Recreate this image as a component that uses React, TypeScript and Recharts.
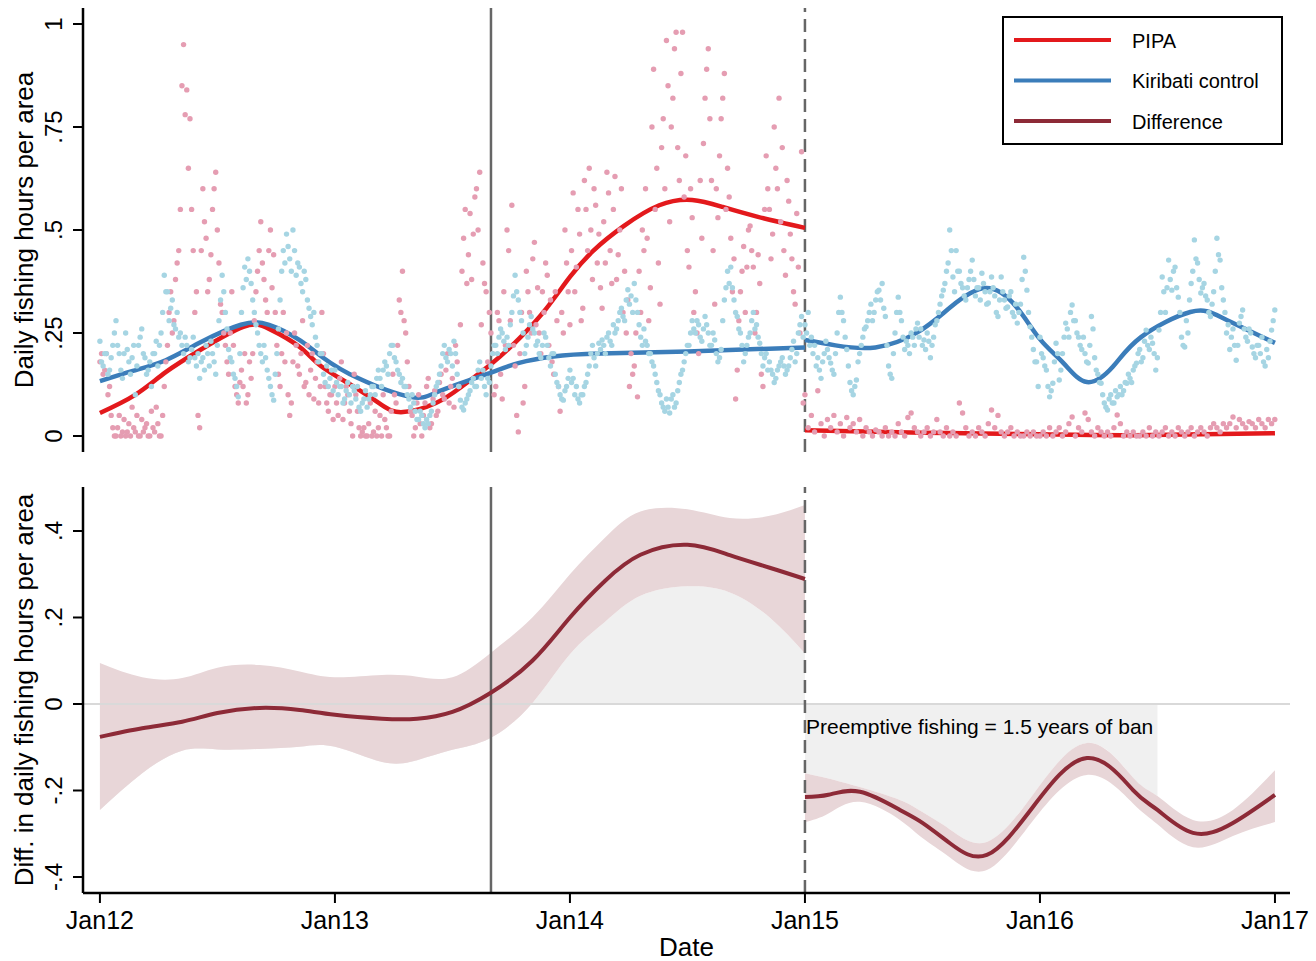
import React from "react";
import { Area, ComposedChart, Line, ReferenceLine, Scatter, XAxis, YAxis } from "recharts";

// x values are decimal years; dots are read every 5 days (b lists sit 2.5 days later)
const STEP_DAYS = 5;
const YEAR_TICKS = [2012, 2013, 2014, 2015, 2016, 2017];
const TOP_TICKS = [0, 0.25, 0.5, 0.75, 1];
const DIFF_TICKS = [-0.4, -0.2, 0, 0.2, 0.4];
const ANNOUNCE = 2013.664;
const BAN = 2015;

// PIPA daily points
const pipa2012 = [
  0.18, 0.15, 0.2, 0.12, 0.02, 0.0, 0.05, 0.01, 0.0, 0.03,
  0.07, 0.01, 0.0, 0.04, 0.02, 0.0, 0.06, 0.01, 0.03, 0.0,
  0.12, 0.22, 0.35, 0.28, 0.42, 0.55, 0.95, 0.84, 0.77, 0.45,
  0.35, 0.02, 0.6, 0.48, 0.38, 0.55, 0.64, 0.42, 0.3, 0.22,
  0.15, 0.35, 0.12, 0.08, 0.16, 0.2, 0.1, 0.14, 0.28, 0.4,
  0.52, 0.38, 0.3, 0.5, 0.44, 0.22, 0.12, 0.3, 0.25, 0.05,
  0.18, 0.22, 0.15, 0.28, 0.13, 0.1, 0.2, 0.14, 0.08, 0.3,
  0.12, 0.06, 0.1,
];
const pipa2012b = [
  0.2, 0.16, 0.1, 0.05, 0.0, 0.02, 0.0, 0.04, 0.01, 0.0,
  0.02, 0.05, 0.0, 0.01, 0.03, 0.0, 0.02, 0.07, 0.0, 0.05,
  0.18, 0.3, 0.25, 0.38, 0.45, 0.85, 0.78, 0.65, 0.55, 0.3,
  0.05, 0.45, 0.52, 0.35, 0.44, 0.6, 0.5, 0.32, 0.25, 0.18,
  0.25, 0.22, 0.1, 0.13, 0.12, 0.08, 0.18, 0.2, 0.35, 0.45,
  0.42, 0.33, 0.45, 0.36, 0.3, 0.15, 0.2, 0.18, 0.1, 0.08,
  0.25, 0.17, 0.2, 0.12, 0.22, 0.16, 0.09, 0.18, 0.12, 0.2,
  0.08, 0.1, 0.04,
];
const pipa2013 = [
  0.12, 0.05, 0.18, 0.08, 0.1, 0.03, 0.15, 0.06, 0.0, 0.02,
  0.0, 0.08, 0.01, 0.0, 0.05, 0.1, 0.02, 0.0, 0.15, 0.08,
  0.33, 0.4, 0.25, 0.12, 0.05, 0.02, 0.1, 0.0, 0.08, 0.14,
  0.03, 0.11, 0.06, 0.15, 0.09, 0.2, 0.12, 0.07, 0.18, 0.27,
  0.48, 0.37, 0.54, 0.49, 0.6, 0.64, 0.42, 0.35, 0.3, 0.2,
  0.12, 0.28, 0.09, 0.22, 0.45, 0.56, 0.17, 0.01, 0.3, 0.12,
  0.35, 0.25, 0.47, 0.36, 0.2, 0.3, 0.39, 0.33, 0.15, 0.28,
  0.06, 0.25, 0.42,
];
const pipa2013b = [
  0.08, 0.14, 0.04, 0.12, 0.06, 0.0, 0.1, 0.02, 0.01, 0.0,
  0.03, 0.0, 0.06, 0.02, 0.0, 0.04, 0.0, 0.06, 0.1, 0.22,
  0.3, 0.28, 0.18, 0.06, 0.0, 0.08, 0.03, 0.05, 0.12, 0.02,
  0.09, 0.05, 0.13, 0.1, 0.16, 0.08, 0.14, 0.22, 0.12, 0.4,
  0.55, 0.44, 0.38, 0.58, 0.5, 0.27, 0.37, 0.18, 0.25, 0.1,
  0.3, 0.15, 0.35, 0.5, 0.28, 0.22, 0.05, 0.2, 0.08, 0.4,
  0.3, 0.43, 0.27, 0.25, 0.35, 0.42, 0.22, 0.18, 0.35, 0.12,
  0.3, 0.5, 0.35,
];
const pipa2014 = [
  0.27, 0.59, 0.41, 0.49, 0.31, 0.55, 0.65, 0.38, 0.56, 0.49,
  0.31, 0.42, 0.59, 0.37, 0.63, 0.44, 0.6, 0.4, 0.33, 0.2,
  0.17, 0.095, 0.3, 0.45, 0.48, 0.36, 0.89, 0.65, 0.32, 0.77,
  0.96, 0.52, 0.82, 0.98, 0.62, 0.98, 0.68, 0.41, 0.53, 0.35,
  0.2, 0.48, 0.82, 0.94, 0.62, 0.32, 0.53, 0.77, 0.88, 0.65,
  0.48, 0.43, 0.16, 0.35, 0.46, 0.41, 0.51, 0.41, 0.3, 0.37,
  0.12, 0.68, 0.55, 0.49, 0.65, 0.82, 0.7, 0.39, 0.57, 0.43,
  0.32, 0.41, 0.69,
];
const pipa2014b = [
  0.45, 0.35, 0.55, 0.28, 0.62, 0.45, 0.5, 0.6, 0.42, 0.36,
  0.52, 0.64, 0.45, 0.55, 0.38, 0.5, 0.3, 0.25, 0.12, 0.15,
  0.25, 0.4, 0.5, 0.6, 0.28, 0.75, 0.55, 0.42, 0.7, 0.6,
  0.85, 0.75, 0.94, 0.7, 0.88, 0.58, 0.45, 0.6, 0.3, 0.25,
  0.62, 0.71, 0.89, 0.77, 0.45, 0.6, 0.68, 0.82, 0.55, 0.58,
  0.35, 0.09, 0.28, 0.4, 0.3, 0.5, 0.45, 0.25, 0.44, 0.15,
  0.55, 0.6, 0.43, 0.75, 0.6, 0.52, 0.45, 0.62, 0.49, 0.35,
  0.54, 0.25, 0.08,
];
const pipa2015 = [
  0.1, 0.02, 0.05, 0.01, 0.11, 0.03, 0.0, 0.04, 0.02, 0.05,
  0.01, 0.03, 0.0, 0.045, 0.02, 0.03, 0.01, 0.04, 0.0, 0.02,
  0.01, 0.0, 0.015, 0.01, 0.0, 0.02, 0.0, 0.01, 0.0, 0.03,
  0.01, 0.0, 0.045, 0.056, 0.02, 0.01, 0.0, 0.01, 0.02, 0.0,
  0.01, 0.04, 0.01, 0.0, 0.02, 0.0, 0.01, 0.0, 0.08, 0.056,
  0.02, 0.0, 0.01, 0.0, 0.02, 0.01, 0.0, 0.03, 0.063, 0.02,
  0.05, 0.01, 0.0, 0.01, 0.02, 0.0, 0.01, 0.0, 0.0, 0.01,
  0.0, 0.01, 0.0,
];
const pipa2016 = [
  0.0, 0.01, 0.0, 0.02, 0.0, 0.01, 0.02, 0.0, 0.01, 0.03,
  0.046, 0.0, 0.02, 0.01, 0.056, 0.04, 0.01, 0.0, 0.02, 0.01,
  0.0, 0.01, 0.0, 0.02, 0.051, 0.03, 0.0, 0.01, 0.0, 0.01,
  0.0, 0.0, 0.01, 0.0, 0.02, 0.0, 0.01, 0.0, 0.01, 0.02,
  0.0, 0.01, 0.0, 0.02, 0.01, 0.0, 0.01, 0.02, 0.0, 0.01,
  0.02, 0.01, 0.0, 0.02, 0.03, 0.02, 0.01, 0.03, 0.02, 0.03,
  0.046, 0.02, 0.04, 0.03, 0.02, 0.035, 0.03, 0.02, 0.04, 0.03,
  0.02, 0.04, 0.03, 0.04,
];

// Kiribati control daily points
const kiri2012 = [
  0.23, 0.17, 0.2, 0.16, 0.22, 0.28, 0.2, 0.14, 0.25, 0.18,
  0.19, 0.1, 0.22, 0.26, 0.19, 0.16, 0.12, 0.2, 0.17, 0.25,
  0.39, 0.35, 0.31, 0.27, 0.3, 0.25, 0.2, 0.22, 0.19, 0.24,
  0.17, 0.14, 0.19, 0.22, 0.17, 0.2, 0.15, 0.28, 0.39, 0.3,
  0.21, 0.18, 0.14, 0.095, 0.3, 0.41, 0.43, 0.37, 0.3, 0.25,
  0.2, 0.22, 0.16, 0.12, 0.087, 0.2, 0.33, 0.45, 0.49, 0.43,
  0.5, 0.39, 0.41, 0.35, 0.38, 0.31, 0.27, 0.24, 0.18, 0.2,
  0.13, 0.12, 0.16,
];
const kiri2012b = [
  0.18, 0.2, 0.15, 0.19, 0.25, 0.22, 0.16, 0.2, 0.21, 0.15,
  0.22, 0.17, 0.24, 0.2, 0.15, 0.18, 0.2, 0.23, 0.22, 0.3,
  0.35, 0.28, 0.33, 0.26, 0.24, 0.22, 0.24, 0.18, 0.21, 0.19,
  0.2, 0.18, 0.16, 0.2, 0.23, 0.18, 0.22, 0.33, 0.35, 0.26,
  0.19, 0.15, 0.12, 0.2, 0.36, 0.38, 0.4, 0.33, 0.27, 0.22,
  0.18, 0.19, 0.14, 0.1, 0.15, 0.26, 0.4, 0.42, 0.46, 0.4,
  0.45, 0.42, 0.37, 0.4, 0.33, 0.29, 0.3, 0.22, 0.2, 0.15,
  0.17, 0.14, 0.11,
];
const kiri2013 = [
  0.16, 0.1, 0.12, 0.09, 0.13, 0.08, 0.11, 0.12, 0.06, 0.09,
  0.07, 0.1, 0.12, 0.14, 0.14, 0.16, 0.17, 0.2, 0.22, 0.18,
  0.15, 0.14, 0.12, 0.09, 0.1, 0.06, 0.04, 0.05, 0.02, 0.03,
  0.06, 0.1, 0.13, 0.17, 0.22, 0.18, 0.2, 0.23, 0.15, 0.087,
  0.063, 0.09, 0.11, 0.14, 0.12, 0.18, 0.16, 0.1, 0.13, 0.2,
  0.22, 0.24, 0.25, 0.21, 0.22, 0.3, 0.39, 0.33, 0.28, 0.2,
  0.24, 0.29, 0.25, 0.23, 0.19, 0.25, 0.22, 0.17, 0.2, 0.13,
  0.1, 0.087, 0.12,
];
const kiri2013b = [
  0.13, 0.12, 0.08, 0.11, 0.1, 0.12, 0.09, 0.07, 0.08, 0.11,
  0.09, 0.12, 0.1, 0.16, 0.12, 0.18, 0.15, 0.22, 0.19, 0.16,
  0.13, 0.12, 0.1, 0.07, 0.08, 0.04, 0.06, 0.03, 0.04, 0.05,
  0.08, 0.12, 0.15, 0.2, 0.19, 0.21, 0.17, 0.2, 0.12, 0.07,
  0.08, 0.1, 0.13, 0.12, 0.16, 0.14, 0.12, 0.14, 0.17, 0.22,
  0.2, 0.26, 0.23, 0.24, 0.27, 0.34, 0.35, 0.3, 0.25, 0.22,
  0.27, 0.26, 0.22, 0.2, 0.22, 0.24, 0.19, 0.2, 0.15, 0.12,
  0.09, 0.11, 0.14,
];
const kiri2014 = [
  0.16, 0.14, 0.12, 0.08, 0.1, 0.13, 0.17, 0.22, 0.17, 0.225,
  0.233, 0.2, 0.25, 0.22, 0.25, 0.28, 0.31, 0.28, 0.355, 0.34,
  0.37, 0.3, 0.24, 0.26, 0.22, 0.2, 0.17, 0.13, 0.1, 0.07,
  0.09, 0.056, 0.1, 0.08, 0.13, 0.16, 0.2, 0.22, 0.28, 0.25,
  0.27, 0.23, 0.29, 0.25, 0.22, 0.233, 0.18, 0.21, 0.33, 0.4,
  0.41, 0.33, 0.29, 0.25, 0.18, 0.22, 0.25, 0.3, 0.27, 0.225,
  0.17, 0.2, 0.18, 0.15, 0.14, 0.17, 0.19, 0.15, 0.17, 0.21,
  0.18, 0.25, 0.29,
];
const kiri2014b = [
  0.13, 0.1, 0.09, 0.1, 0.12, 0.15, 0.2, 0.19, 0.2, 0.21,
  0.22, 0.24, 0.23, 0.27, 0.26, 0.3, 0.29, 0.33, 0.32, 0.3,
  0.33, 0.27, 0.22, 0.23, 0.2, 0.18, 0.15, 0.11, 0.08, 0.06,
  0.07, 0.09, 0.07, 0.11, 0.15, 0.18, 0.22, 0.25, 0.26, 0.28,
  0.24, 0.26, 0.27, 0.22, 0.25, 0.2, 0.19, 0.28, 0.36, 0.37,
  0.36, 0.3, 0.26, 0.22, 0.2, 0.24, 0.28, 0.26, 0.24, 0.2,
  0.19, 0.16, 0.16, 0.13, 0.16, 0.18, 0.17, 0.16, 0.19, 0.23,
  0.2, 0.27, 0.24,
];
const kiri2015 = [
  0.27, 0.3, 0.24, 0.22, 0.19, 0.14, 0.2, 0.21, 0.177, 0.15,
  0.25, 0.337, 0.28, 0.21, 0.13, 0.1, 0.136, 0.2, 0.24, 0.265,
  0.3, 0.28, 0.33, 0.354, 0.37, 0.29, 0.17, 0.14, 0.25, 0.337,
  0.28, 0.21, 0.22, 0.25, 0.22, 0.274, 0.26, 0.233, 0.25, 0.19,
  0.24, 0.28, 0.32, 0.354, 0.4, 0.5, 0.386, 0.45, 0.4, 0.36,
  0.33, 0.38, 0.427, 0.34, 0.36, 0.395, 0.35, 0.323, 0.386, 0.34,
  0.29, 0.386, 0.33, 0.313, 0.35, 0.29, 0.274, 0.32, 0.434, 0.354,
  0.265, 0.21, 0.18,
];
const kiri2015b = [
  0.25, 0.22, 0.2, 0.17, 0.16, 0.18, 0.23, 0.19, 0.16, 0.2,
  0.3, 0.3, 0.24, 0.17, 0.11, 0.12, 0.18, 0.22, 0.26, 0.28,
  0.32, 0.3, 0.35, 0.33, 0.31, 0.22, 0.15, 0.2, 0.3, 0.3,
  0.24, 0.23, 0.2, 0.24, 0.26, 0.24, 0.22, 0.21, 0.23, 0.22,
  0.27, 0.3, 0.34, 0.37, 0.42, 0.45, 0.35, 0.4, 0.37, 0.34,
  0.36, 0.4, 0.38, 0.36, 0.33, 0.37, 0.32, 0.35, 0.36, 0.3,
  0.33, 0.35, 0.31, 0.34, 0.3, 0.32, 0.3, 0.38, 0.4, 0.3,
  0.24, 0.18, 0.12,
];
const kiri2016 = [
  0.24, 0.19, 0.16, 0.095, 0.128, 0.225, 0.136, 0.2, 0.274, 0.24,
  0.318, 0.28, 0.24, 0.21, 0.2, 0.177, 0.29, 0.19, 0.15, 0.128,
  0.08, 0.063, 0.1, 0.08, 0.095, 0.12, 0.11, 0.128, 0.14, 0.16,
  0.177, 0.21, 0.19, 0.257, 0.21, 0.225, 0.16, 0.257, 0.386, 0.3,
  0.427, 0.354, 0.41, 0.337, 0.24, 0.216, 0.25, 0.37, 0.476, 0.42,
  0.347, 0.37, 0.33, 0.29, 0.35, 0.48, 0.427, 0.33, 0.25, 0.21,
  0.26, 0.184, 0.274, 0.306, 0.24, 0.26, 0.216, 0.19, 0.22, 0.24,
  0.17, 0.19, 0.257, 0.306,
];
const kiri2016b = [
  0.2, 0.17, 0.12, 0.11, 0.18, 0.2, 0.16, 0.24, 0.26, 0.3,
  0.28, 0.25, 0.22, 0.24, 0.18, 0.22, 0.26, 0.16, 0.13, 0.1,
  0.07, 0.09, 0.08, 0.11, 0.1, 0.1, 0.13, 0.15, 0.13, 0.17,
  0.2, 0.18, 0.23, 0.22, 0.24, 0.2, 0.19, 0.3, 0.35, 0.36,
  0.38, 0.4, 0.36, 0.3, 0.22, 0.28, 0.33, 0.4, 0.43, 0.38,
  0.36, 0.34, 0.3, 0.32, 0.4, 0.44, 0.36, 0.3, 0.27, 0.24,
  0.22, 0.22, 0.29, 0.26, 0.23, 0.25, 0.2, 0.22, 0.2, 0.18,
  0.21, 0.23, 0.28,
];

// smoothed fits [year, value]
const pipaFitPre = [
  [2012.0, 0.056], [2012.15, 0.1], [2012.28, 0.155], [2012.43, 0.21], [2012.61, 0.265],
  [2012.72, 0.26], [2012.85, 0.216], [2012.94, 0.17], [2013.08, 0.12], [2013.2, 0.075],
  [2013.29, 0.058], [2013.43, 0.08], [2013.54, 0.12], [2013.67, 0.177], [2013.79, 0.24],
  [2013.9, 0.31], [2014.0, 0.386], [2014.1, 0.45], [2014.23, 0.51], [2014.38, 0.56],
  [2014.52, 0.573], [2014.65, 0.556], [2014.8, 0.532], [2015.0, 0.505],
];
const pipaFitPost = [
  [2015.0, 0.014], [2015.5, 0.008], [2016.0, 0.004], [2016.4, 0.002], [2017.0, 0.007],
];
const kiriFitPre = [
  [2012.0, 0.133], [2012.14, 0.158], [2012.28, 0.184], [2012.43, 0.228], [2012.6, 0.27],
  [2012.72, 0.27], [2012.85, 0.233], [2012.95, 0.19], [2013.1, 0.14], [2013.32, 0.095],
  [2013.45, 0.11], [2013.67, 0.155], [2013.78, 0.177], [2013.93, 0.193], [2014.13, 0.2],
  [2014.5, 0.205], [2015.0, 0.215],
];
const kiriFitPost = [
  [2015.0, 0.233], [2015.13, 0.22], [2015.3, 0.215], [2015.48, 0.252], [2015.62, 0.313],
  [2015.77, 0.359], [2015.9, 0.313], [2016.0, 0.235], [2016.1, 0.177], [2016.2, 0.131],
  [2016.31, 0.168], [2016.43, 0.24], [2016.64, 0.301], [2016.78, 0.286], [2017.0, 0.226],
];

// difference: [year, fit, lower, upper]
const diffPre = [
  [2012.0, -0.076, -0.245, 0.095],
  [2012.18, -0.056, -0.16, 0.062],
  [2012.35, -0.041, -0.108, 0.06],
  [2012.5, -0.021, -0.105, 0.084],
  [2012.68, -0.009, -0.104, 0.09],
  [2012.85, -0.014, -0.099, 0.075],
  [2013.0, -0.025, -0.099, 0.062],
  [2013.2, -0.034, -0.134, 0.067],
  [2013.35, -0.034, -0.13, 0.063],
  [2013.5, -0.018, -0.106, 0.062],
  [2013.66, 0.025, -0.079, 0.117],
  [2013.84, 0.1, 0.002, 0.2],
  [2014.0, 0.2, 0.115, 0.3],
  [2014.15, 0.285, 0.19, 0.385],
  [2014.3, 0.345, 0.25, 0.445],
  [2014.5, 0.368, 0.272, 0.45],
  [2014.68, 0.344, 0.258, 0.43],
  [2014.85, 0.315, 0.2, 0.435],
  [2015.0, 0.289, 0.117, 0.46],
];
const diffPost = [
  [2015.0, -0.215, -0.273, -0.16],
  [2015.1, -0.21, -0.253, -0.172],
  [2015.234, -0.203, -0.226, -0.192],
  [2015.404, -0.245, -0.268, -0.222],
  [2015.5, -0.275, -0.31, -0.25],
  [2015.617, -0.322, -0.355, -0.29],
  [2015.774, -0.349, -0.384, -0.319],
  [2015.97, -0.238, -0.27, -0.21],
  [2016.2, -0.125, -0.164, -0.09],
  [2016.396, -0.199, -0.23, -0.17],
  [2016.5, -0.245, -0.278, -0.213],
  [2016.651, -0.298, -0.331, -0.268],
  [2016.821, -0.275, -0.305, -0.245],
  [2017.0, -0.21, -0.273, -0.153],
];
const PREEMPT_END = 2016.5;

const FONT = '"Liberation Sans", Arial, Helvetica, sans-serif';
const X_DOMAIN = [2011.928, 2017.064];
const RED = "#e3191c";
const BLUE = "#3b7dba";
const MAROON = "#8d2a37";
const PINK_DOT = "#e59db2";
const BLUE_DOT = "#a6d5e3";
const BAND = "#e8d6d8";
const SHADE = "#f0f0f0";
const VLINE = "#666666";
const CURVE = "natural";

const toDots = (startYear: number, vals: number[], shiftDays = 0) =>
  vals.map((v, i) => ({ x: startYear + (i * STEP_DAYS + shiftDays) / 365.25, y: v }));
const toFit = (rows: number[][]) => rows.map(([x, y]) => ({ x, y }));
const toDiff = (rows: number[][]) => rows.map(([x, fit, lo, hi]) => ({ x, fit, lo, hi }));

const pipaDots = [
  ...toDots(2012, pipa2012), ...toDots(2012, pipa2012b, 2.5),
  ...toDots(2013, pipa2013), ...toDots(2013, pipa2013b, 2.5),
  ...toDots(2014, pipa2014), ...toDots(2014, pipa2014b, 2.5),
  ...toDots(2015, pipa2015), ...toDots(2016, pipa2016),
];
const kiriDots = [
  ...toDots(2012, kiri2012), ...toDots(2012, kiri2012b, 2.5),
  ...toDots(2013, kiri2013), ...toDots(2013, kiri2013b, 2.5),
  ...toDots(2014, kiri2014), ...toDots(2014, kiri2014b, 2.5),
  ...toDots(2015, kiri2015), ...toDots(2015, kiri2015b, 2.5),
  ...toDots(2016, kiri2016), ...toDots(2016, kiri2016b, 2.5),
];
const diffPreData = toDiff(diffPre);
const diffPostData = toDiff(diffPost);
const shadePost = diffPostData.filter((d) => d.x <= PREEMPT_END);

const tickText = (v: number) => {
  if (v === 0) return "0";
  const s = String(Math.abs(v)).replace(/^0/, "");
  return (v < 0 ? "-" : "") + s;
};

function RotTick(props: any) {
  const { y, payload } = props;
  const x = 62;
  return (
    <text x={x} y={y} transform={`rotate(-90 ${x} ${y})`} textAnchor="middle" fontSize={24} fontFamily={FONT} fill="#000">
      {tickText(payload.value)}
    </text>
  );
}

function DateTick(props: any) {
  const { x, payload } = props;
  return (
    <text x={x} y={459} textAnchor="middle" fontSize={25} fontFamily={FONT} fill="#000">
      {`Jan${String(payload.value).slice(2)}`}
    </text>
  );
}

const yTitle = (text: string, cy: number) => () => (
  <text x={33} y={cy} transform={`rotate(-90 33 ${cy})`} textAnchor="middle" fontSize={26} fontFamily={FONT} fill="#000">
    {text}
  </text>
);

const dateTitle = () => (
  <text x={686.5} y={486} textAnchor="middle" fontSize={26} fontFamily={FONT} fill="#000">
    Date
  </text>
);

const dot = (fill: string) => (p: any) => <circle cx={p.cx} cy={p.cy} r={2.7} fill={fill} />;

const axisLine = { stroke: "#000", strokeWidth: 2.5 };
const tickLine = { stroke: "#000", strokeWidth: 2 };

function TopPanel() {
  return (
    <ComposedChart width={1316} height={470} margin={{ top: 8, right: 26, bottom: 18, left: 0 }}>
      <XAxis type="number" dataKey="x" domain={X_DOMAIN} ticks={YEAR_TICKS} allowDataOverflow
        height={0} tick={false} tickLine={false} axisLine={axisLine} />
      <YAxis type="number" dataKey="y" domain={[-0.0388, 1.0388]} ticks={TOP_TICKS} allowDataOverflow
        width={83} tickSize={10} tick={<RotTick />} tickLine={tickLine} axisLine={axisLine}
        label={{ content: yTitle("Daily fishing hours per area", 230) }} />
      <ReferenceLine x={ANNOUNCE} stroke={VLINE} strokeWidth={2.5} />
      <ReferenceLine x={BAN} stroke={VLINE} strokeWidth={2.5} strokeDasharray="13 7" />
      <Scatter data={pipaDots} dataKey="y" shape={dot(PINK_DOT)} isAnimationActive={false} />
      <Scatter data={kiriDots} dataKey="y" shape={dot(BLUE_DOT)} isAnimationActive={false} />
      <Line data={toFit(pipaFitPre)} dataKey="y" type={CURVE} stroke={RED} strokeWidth={4.5} dot={false} isAnimationActive={false} />
      <Line data={toFit(pipaFitPost)} dataKey="y" type={CURVE} stroke={RED} strokeWidth={4.5} dot={false} isAnimationActive={false} />
      <Line data={toFit(kiriFitPre)} dataKey="y" type={CURVE} stroke={BLUE} strokeWidth={4.5} dot={false} isAnimationActive={false} />
      <Line data={toFit(kiriFitPost)} dataKey="y" type={CURVE} stroke={BLUE} strokeWidth={4.5} dot={false} isAnimationActive={false} />
    </ComposedChart>
  );
}

function BottomPanel() {
  const band = (d: any) => [d.lo, d.hi];
  return (
    <ComposedChart width={1316} height={491} margin={{ top: 17, right: 26, bottom: 0, left: 0 }}>
      <XAxis type="number" dataKey="x" domain={X_DOMAIN} ticks={YEAR_TICKS} allowDataOverflow
        height={68} tickSize={10} tick={<DateTick />} tickLine={tickLine} axisLine={axisLine}
        label={{ content: dateTitle }} />
      <YAxis type="number" domain={[-0.437, 0.5017]} ticks={DIFF_TICKS} allowDataOverflow
        width={83} tickSize={10} tick={<RotTick />} tickLine={tickLine} axisLine={axisLine}
        label={{ content: yTitle("Diff. in daily fishing hours per area", 220) }} />
      {/* grey shading: below 0 parts of the pre range are covered by the band */}
      <Area data={diffPreData} dataKey={(d: any) => [0, d.lo]} type={CURVE} fill={SHADE} fillOpacity={1} stroke="none" isAnimationActive={false} />
      <Area data={shadePost} dataKey={(d: any) => [d.hi, 0]} type={CURVE} fill={SHADE} fillOpacity={1} stroke="none" isAnimationActive={false} />
      <Area data={diffPreData} dataKey={band} type={CURVE} fill={BAND} fillOpacity={1} stroke="none" isAnimationActive={false} />
      <Area data={diffPostData} dataKey={band} type={CURVE} fill={BAND} fillOpacity={1} stroke="none" isAnimationActive={false} />
      <ReferenceLine y={0} stroke="#d9d9d9" strokeWidth={2} />
      <ReferenceLine x={ANNOUNCE} stroke={VLINE} strokeWidth={2.5} />
      <ReferenceLine x={BAN} stroke={VLINE} strokeWidth={2.5} strokeDasharray="13 7" />
      <Line data={diffPreData} dataKey="fit" type={CURVE} stroke={MAROON} strokeWidth={4} dot={false} isAnimationActive={false} />
      <Line data={diffPostData} dataKey="fit" type={CURVE} stroke={MAROON} strokeWidth={4} dot={false} isAnimationActive={false} />
    </ComposedChart>
  );
}

const legendItems = [
  { name: "PIPA", color: RED },
  { name: "Kiribati control", color: BLUE },
  { name: "Difference", color: MAROON },
];

export default function App() {
  return (
    <div style={{ position: "absolute", left: 0, top: 0, width: 1316, height: 961, background: "#fff", fontFamily: FONT }}>
      <div style={{ position: "absolute", left: 0, top: 0 }}>
        <TopPanel />
      </div>
      <div style={{ position: "absolute", left: 0, top: 470 }}>
        <BottomPanel />
      </div>
      <svg width={1316} height={961} style={{ position: "absolute", left: 0, top: 0, pointerEvents: "none" }}>
        <rect x={1003} y={17} width={279} height={127} fill="#fff" stroke="#000" strokeWidth={2} />
        {legendItems.map((it, i) => (
          <g key={it.name}>
            <line x1={1014} x2={1111} y1={40 + i * 40.5} y2={40 + i * 40.5} stroke={it.color} strokeWidth={4} />
            <text x={1132} y={47.5 + i * 40.5} fontSize={20} fontFamily={FONT} fill="#000">{it.name}</text>
          </g>
        ))}
        <text x={806} y={734} fontSize={21} fontFamily={FONT} fill="#000">Preemptive fishing = 1.5 years of ban</text>
      </svg>
    </div>
  );
}
